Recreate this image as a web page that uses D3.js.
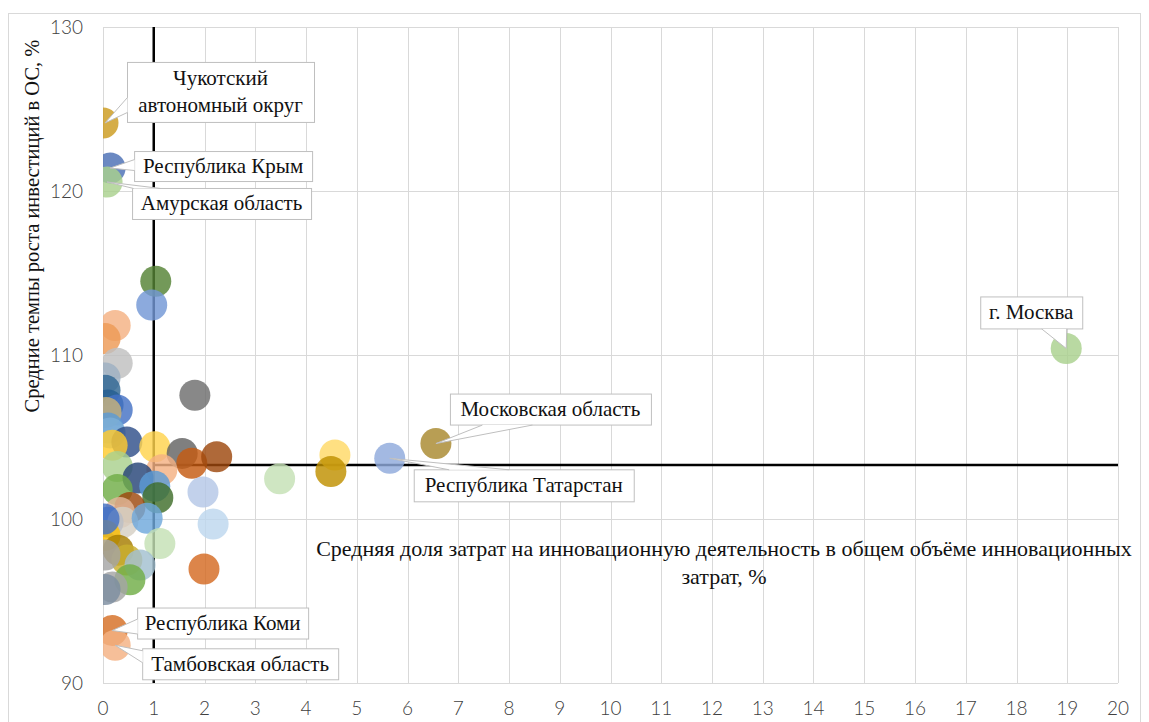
<!DOCTYPE html>
<html>
<head>
<meta charset="utf-8">
<script src="https://cdn.jsdelivr.net/npm/d3@7"></script>
<style>
  body { margin: 0; background: #fff; }
</style>
</head>
<body>
<div id="chart"></div>
<script>
var W = 1149, H = 722;

// share of innovation costs, % (x) and investment growth rate, % (y)
var xShare = [0.0, 0.14, 0.08, 18.98, 6.56, 5.65, 0.18, 0.24, 1.04, 0.96, 0.24, 0.04, 0.28, 0.04, 1.81,
  0.04, 0.10, 0.28, 0.06, 0.10, 0.14, 0.47, 0.18, 1.02, 1.56, 1.75, 2.24, 4.57, 4.49, 1.16, 3.48, 0.28,
  0.69, 1.02, 1.97, 1.08, 0.28, 0.53, 0.33, 0.10, 0.39, 0.87, 2.17, 0.04, 1.12, 0.30, 0.47, 0.73, 0.53,
  1.99, 0.18, 0.04, 0.04, 0.02];
var yGrowth = [124.15, 121.4, 120.55, 110.4, 104.6, 103.7, 93.2, 92.3, 114.5, 113.05, 111.8, 111.0, 109.5,
  108.6, 107.55, 107.85, 106.95, 106.65, 106.5, 105.55, 105.25, 104.7, 104.5, 104.4, 104.0, 103.4, 103.8,
  103.9, 102.9, 103.0, 102.45, 103.2, 102.5, 102.0, 101.65, 101.3, 101.8, 100.7, 100.4, 99.8, 99.8, 100.05,
  99.7, 99.0, 98.5, 98.1, 97.5, 97.2, 96.3, 96.95, 95.85, 95.7, 97.8, 100.0];

// colour of every bubble
var pointColor = ['#CC9B1E', '#4A6FB5', '#A9D18E', '#A9D18E', '#A8892E', '#8FAADC', '#D66F25', '#F4B183',
  '#548235', '#7397D6', '#F4B183', '#ED9A55', '#BFBFBF', '#9DB0C2', '#6E6E6E', '#2F6692', '#255E91',
  '#4472C4', '#C8B27A', '#5B9BD5', '#7DAFD8', '#2F4F8A', '#FFCB2E', '#FFD34D', '#636363', '#C55A11',
  '#9E480E', '#FFD966', '#BF9000', '#F4B183', '#C5E0B4', '#A9D18E', '#264478', '#5B9BD5', '#B4C7E7',
  '#3F6E2B', '#70AD47', '#9E480E', '#E2B79A', '#4472C4', '#D6D0C4', '#6FA8DC', '#BDD7EE', '#FFC000',
  '#C5E0B4', '#A67C00', '#C9AE2E', '#A2BFD0', '#70AD47', '#D46A22', '#A5A5A5', '#7C8DA0', '#A5A5A5',
  '#4472C4'];

// labelled regions (index into the arrays above)
var labelIndex = [0, 1, 2, 3, 4, 5, 6, 7];
var labelText = ['Чукотский\nавтономный округ', 'Республика Крым', 'Амурская область', 'г. Москва',
  'Московская область', 'Республика Татарстан', 'Республика Коми', 'Тамбовская область'];

var xTicks = d3.range(0, 21, 1);
var yTicks = [90, 100, 110, 120, 130];
var xRef = 1;       // vertical black line
var yRef = 103.3;   // horizontal black line

var xTitle = ['Средняя доля затрат на инновационную деятельность в общем объёме инновационных', 'затрат, %'];
var yTitle = 'Средние темпы роста инвестиций в ОС, %';

// callout layout: box offset from point (dx, dy), size (w, h), wedge base on the box
var calloutLayout = [
  { dx: 22, dy: -61, w: 187, h: 60, wedge: [[0, 35], [0, 50]] },
  { dx: 24, dy: -17, w: 178, h: 30, wedge: [[0, 8], [0, 19]] },
  { dx: 25, dy: 6, w: 179, h: 31, wedge: [[1, 0], [28, 0]] },
  { dx: -86, dy: -52, w: 102, h: 32, wedge: [[61, 32], [86, 32]] },
  { dx: 14, dy: -50, w: 201, h: 31, wedge: [[32, 31], [82, 31]] },
  { dx: 24, dy: 11, w: 220, h: 32, wedge: [[35, 0], [95, 0]] },
  { dx: 25, dy: -23, w: 171, h: 31, wedge: [[0, 11], [0, 26]] },
  { dx: 27, dy: 3, w: 196, h: 31, wedge: [[0, 2], [0, 14]] }
];

var margin = { left: 103, right: W - 1118, top: 27, bottom: H - 683 };
var R = 15.5;

var svg = d3.select('#chart').append('svg').attr('width', W).attr('height', H)
  .style('font-family', '"Liberation Serif", serif');

svg.append('rect').attr('x', 8.5).attr('y', 13.5).attr('width', 1132).attr('height', 720)
  .attr('fill', '#fff').attr('stroke', '#D9D9D9');

var x = d3.scaleLinear().domain([0, 20]).range([margin.left, W - margin.right]);
var y = d3.scaleLinear().domain([90, 130]).range([H - margin.bottom, margin.top]);

// gridlines
svg.append('g').selectAll('line').data(xTicks).enter().append('line')
  .attr('x1', function (d) { return Math.round(x(d)) + 0.5; })
  .attr('x2', function (d) { return Math.round(x(d)) + 0.5; })
  .attr('y1', y(130)).attr('y2', y(90))
  .attr('stroke', '#D9D9D9');
svg.append('g').selectAll('line').data(yTicks).enter().append('line')
  .attr('y1', function (d) { return Math.round(y(d)) + 0.5; })
  .attr('y2', function (d) { return Math.round(y(d)) + 0.5; })
  .attr('x1', x(0)).attr('x2', x(20))
  .attr('stroke', '#D9D9D9');

// tick labels
var tickFont = 'Lato, sans-serif';
svg.append('g').selectAll('text').data(xTicks).enter().append('text')
  .attr('x', function (d) { return x(d); })
  .attr('y', y(90) + 32)
  .attr('text-anchor', 'middle')
  .style('font-family', tickFont).style('font-size', '19px').style('font-weight', 300)
  .attr('fill', '#404040')
  .text(function (d) { return d; });
svg.append('g').selectAll('text').data(yTicks).enter().append('text')
  .attr('x', x(0) - 20)
  .attr('y', function (d) { return y(d) + 7; })
  .attr('text-anchor', 'end')
  .style('font-family', tickFont).style('font-size', '19px').style('font-weight', 300)
  .attr('fill', '#404040')
  .text(function (d) { return d; });

// reference lines
svg.append('line').attr('x1', x(xRef)).attr('x2', x(xRef)).attr('y1', y(130)).attr('y2', y(90))
  .attr('stroke', '#000').attr('stroke-width', 2.5);
svg.append('line').attr('x1', x(xRef)).attr('x2', x(20)).attr('y1', y(yRef)).attr('y2', y(yRef))
  .attr('stroke', '#000').attr('stroke-width', 2.5);

// bubbles, clipped to the plot area
svg.append('clipPath').attr('id', 'plotclip').append('rect')
  .attr('x', x(0)).attr('y', y(130)).attr('width', x(20) - x(0)).attr('height', y(90) - y(130));

svg.append('g').attr('clip-path', 'url(#plotclip)')
  .selectAll('circle').data(xShare).enter().append('circle')
  .attr('cx', function (d) { return x(d); })
  .attr('cy', function (d, i) { return y(yGrowth[i]); })
  .attr('r', R)
  .attr('fill', function (d, i) { return pointColor[i]; })
  .attr('fill-opacity', 0.82);

// callouts
var callouts = svg.append('g');
labelIndex.forEach(function (idx, k) {
  var L = calloutLayout[k];
  var ax = Math.max(x(xShare[idx]), x(0) + 2), ay = y(yGrowth[idx]);
  var bx = ax + L.dx, by = ay + L.dy;
  var g = callouts.append('g');
  g.append('rect').attr('x', bx + 0.5).attr('y', by + 0.5).attr('width', L.w).attr('height', L.h)
    .attr('fill', '#fff').attr('stroke', '#BFBFBF');
  var p1 = [bx + L.wedge[0][0] + 0.5, by + L.wedge[0][1] + 0.5];
  var p2 = [bx + L.wedge[1][0] + 0.5, by + L.wedge[1][1] + 0.5];
  g.append('path').attr('d', 'M' + p1 + 'L' + [ax, ay] + 'L' + p2 + 'Z')
    .attr('fill', '#fff');
  g.append('path').attr('d', 'M' + p1 + 'L' + [ax, ay] + 'L' + p2)
    .attr('fill', 'none').attr('stroke', '#BFBFBF');
  var lines = labelText[k].split('\n');
  var lh = 27;
  var t = g.append('text').attr('text-anchor', 'middle').style('font-size', '21px').attr('fill', '#111');
  lines.forEach(function (s, j) {
    t.append('tspan').attr('x', bx + L.w / 2)
      .attr('y', by + L.h / 2 + 7 + (j - (lines.length - 1) / 2) * lh)
      .text(s);
  });
});

// axis titles
svg.append('g').selectAll('text').data(xTitle).enter().append('text')
  .attr('x', 724)
  .attr('y', function (d, i) { return 556 + i * 28; })
  .attr('text-anchor', 'middle')
  .style('font-size', '22px').attr('fill', '#111')
  .text(function (d) { return d; });

svg.append('text')
  .attr('transform', 'translate(39,' + 226 + ') rotate(-90)')
  .attr('text-anchor', 'middle')
  .style('font-size', '20.5px').attr('fill', '#111')
  .text(yTitle);
</script>
</body>
</html>
